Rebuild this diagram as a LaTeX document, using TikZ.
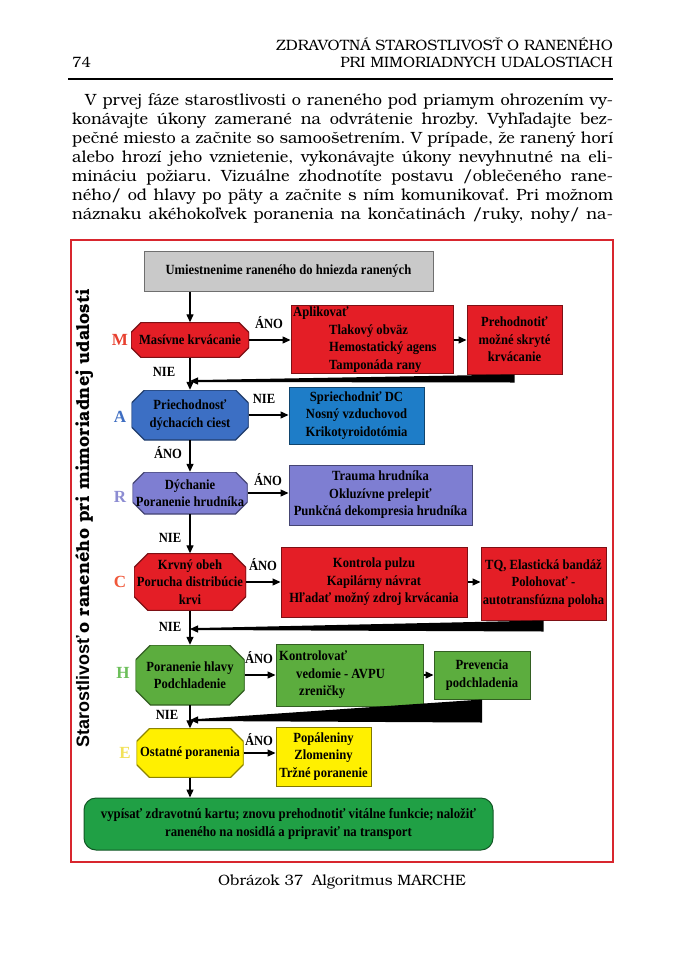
\documentclass[tikz,border=0pt]{standalone}
\usepackage{fontspec}
\setmainfont{Liberation Serif}
\newfontfamily\bonum{texgyrebonum-regular.otf}[BoldFont=texgyrebonum-bold.otf]
\newfontfamily\dfont{Liberation Serif}[FakeStretch=0.9]
\newfontfamily\lsans{Liberation Sans}
\usetikzlibrary{arrows.meta}
\definecolor{cGray}{HTML}{C9C9C9}
\definecolor{cRed}{HTML}{E41E26}
\definecolor{cBlueO}{HTML}{3C6FC4}
\definecolor{cBlueB}{HTML}{1E7DC8}
\definecolor{cPurple}{HTML}{7E7ED2}
\definecolor{cGreen}{HTML}{5CAD3E}
\definecolor{cDGreen}{HTML}{20A045}
\definecolor{cYellow}{HTML}{FFF000}
\definecolor{cFrame}{HTML}{D8262E}
\definecolor{lM}{HTML}{E8402F}
\definecolor{lA}{HTML}{3F6EC2}
\definecolor{lR}{HTML}{8C8CD2}
\definecolor{lC}{HTML}{F0583A}
\definecolor{lH}{HTML}{6CBF5A}
\definecolor{lE}{HTML}{F2E25A}
\frenchspacing
\begin{document}
\begin{tikzpicture}[x=1pt,y=-1pt,
  dtxt/.style={font=\dfont\bfseries\fontsize{14}{17.5}\selectfont},
  arr/.style={-{Triangle[length=8pt,width=7pt]}, line width=1.3pt},
  octcut/.code={\def\octc{#1}},
  octcol/.code={\def\octcol{#1}},
  octo/.style={rectangle, inner sep=0pt, align=center, dtxt,
    path picture={\path[fill=\octcol, draw=\octcol!55!black, line width=1.2pt]
      ([xshift=\octc]path picture bounding box.north west) --
      ([xshift=-\octc]path picture bounding box.north east) --
      ([yshift=-\octc]path picture bounding box.north east) --
      ([yshift=\octc]path picture bounding box.south east) --
      ([xshift=-\octc]path picture bounding box.south east) --
      ([xshift=\octc]path picture bounding box.south west) --
      ([yshift=\octc]path picture bounding box.south west) --
      ([yshift=-\octc]path picture bounding box.north west) -- cycle;}},
  rbox/.style={rectangle, inner sep=0pt, align=center, dtxt, line width=1pt},
  lab/.style={font=\dfont\bfseries\fontsize{14}{16}\selectfont, inner sep=0pt},
  letter/.style={font=\rmfamily\bfseries\fontsize{17}{18}\selectfont, inner sep=0pt},
  body/.style={font=\bonum\fontsize{16.3}{19}\selectfont, inner sep=0pt, anchor=base west},
  head/.style={font=\bonum\fontsize{15}{16}\selectfont, inner sep=0pt}
]
\useasboundingbox (0,0) rectangle (685,967);
\fill[white] (0,0) rectangle (685,967);

% header
\node[head, anchor=base east] (h1) at (613,50) {ZDRAVOTNÁ STAROSTLIVOSŤ O RANENÉHO};
\node[head, anchor=base east] (h2) at (613,67) {PRI MIMORIADNYCH UDALOSTIACH};
\node[font=\bonum\fontsize{15}{16}\selectfont, inner sep=0pt, anchor=base west] (pg) at (72,67) {74};
\coordinate (hrA) at (68,79);
\coordinate (hrB) at (613,79);
\draw[line width=1.4pt] (hrA) -- (hrB);

% body text
\node[body] (t1) at (85,105) {\makebox[528pt][s]{V prvej fáze starostlivosti o raneného pod priamym ohrozením vy-}};
\node[body] (t2) at (72,124) {\makebox[541pt][s]{konávajte úkony zamerané na odvrátenie hrozby. Vyhľadajte bez-}};
\node[body] (t3) at (72,143) {\makebox[541pt][s]{pečné miesto a začnite so samoošetrením. V prípade, že ranený horí}};
\node[body] (t4) at (72,162) {\makebox[541pt][s]{alebo hrozí jeho vznietenie, vykonávajte úkony nevyhnutné na eli-}};
\node[body] (t5) at (72,181) {\makebox[541pt][s]{mináciu požiaru. Vizuálne zhodnotíte postavu /oblečeného rane-}};
\node[body] (t6) at (72,200) {\makebox[541pt][s]{ného/ od hlavy po päty a začnite s ním komunikovať. Pri možnom}};
\node[body] (t7) at (72,219) {\makebox[541pt][s]{náznaku akéhokoľvek poranenia na končatinách /ruky, nohy/ na-}};

% frame
\draw[cFrame, line width=1.5pt] (71,240) rectangle (613,862);

% vertical title
\node[rotate=90, anchor=base west, inner sep=0pt] (vt) at (89,748)
  {{\lsans\bfseries\fontsize{18}{18}\selectfont Starostlivosť} {\bonum\bfseries\fontsize{18}{18}\selectfont o raneného pri mimoriadnej udalosti}};

% nodes
\node[rbox, fill=cGray, draw=cGray!55!black, minimum width=289pt, minimum height=40pt] (g) at (288.5,271) {Umiestnenime raneného do hniezda ranených};

\node[octo, octcol=cRed, octcut=10pt, minimum width=118pt, minimum height=35pt] (m) at (190,340) {Masívne krvácanie};
\node[rbox, fill=cRed, draw=cRed!55!black, minimum width=162pt, minimum height=68pt] (r1) at (372,339) {};
\node[dtxt, anchor=north west, align=left, inner sep=0pt] (r1t) at (293,307) {Aplikovať\\\hspace*{36pt}Tlakový obväz\\\hspace*{36pt}Hemostatický agens\\\hspace*{36pt}Tamponáda rany};
\node[rbox, fill=cRed, draw=cRed!55!black, minimum width=95pt, minimum height=69pt] (r2) at (514.5,339.5) {Prehodnotiť\\možné skryté\\krvácanie};

\node[octo, octcol=cBlueO, octcut=13pt, minimum width=117pt, minimum height=50pt] (a) at (190,415) {Priechodnosť\\dýchacích ciest};
\node[rbox, fill=cBlueB, draw=cBlueB!55!black, minimum width=135pt, minimum height=57pt] (b1) at (356.5,415.5) {Spriechodniť DC\\Nosný vzduchovod\\Krikotyroidotómia};

\node[octo, octcol=cPurple, octcut=12pt, minimum width=115pt, minimum height=42pt] (r) at (190,493) {Dýchanie\\Poranenie hrudníka};
\node[rbox, fill=cPurple, draw=cPurple!55!black, minimum width=183pt, minimum height=60pt] (p1) at (380.5,495) {Trauma hrudníka\\Okluzívne prelepiť\\Punkčná dekompresia hrudníka};

\node[octo, octcol=cRed, octcut=14pt, minimum width=112pt, minimum height=57pt] (c) at (190,582) {Krvný obeh\\Porucha distribúcie\\krvi};
\node[rbox, fill=cRed, draw=cRed!55!black, minimum width=186pt, minimum height=70pt] (c1) at (374,582) {Kontrola pulzu\\Kapilárny návrat\\Hľadať možný zdroj krvácania};
\node[rbox, fill=cRed, draw=cRed!55!black, minimum width=125pt, minimum height=73pt] (c2) at (543.5,583.5) {TQ, Elastická bandáž\\Polohovať -\\autotransfúzna poloha};

\node[octo, octcol=cGreen, octcut=15pt, minimum width=109pt, minimum height=60pt] (h) at (190,675) {Poranenie hlavy\\Podchladenie};
\node[rbox, fill=cGreen, draw=cGreen!55!black, minimum width=147pt, minimum height=62pt] (h1b) at (349.5,675) {};
\node[dtxt, anchor=north west, align=left, inner sep=0pt] (h1t) at (279,651) {Kontrolovať\\\hspace*{17pt}vedomie - AVPU\\\hspace*{20pt}zreničky};
\node[rbox, fill=cGreen, draw=cGreen!55!black, minimum width=96pt, minimum height=48pt] (h2b) at (482,675) {Prevencia\\podchladenia};

\node[octo, octcol=cYellow, octcut=13pt, minimum width=107pt, minimum height=49pt] (e) at (190,753) {Ostatné poranenia};
\node[rbox, fill=cYellow, draw=cYellow!50!black, minimum width=95pt, minimum height=59pt] (y1) at (323.5,756.5) {Popáleniny\\Zlomeniny\\Tržné poranenie};

\node[rbox, fill=cDGreen, draw=cDGreen!55!black, rounded corners=12pt, minimum width=409pt, minimum height=52pt, font=\dfont\bfseries\fontsize{14.2}{18}\selectfont] (f) at (288.5,824) {vypísať zdravotnú kartu; znovu prehodnotiť vitálne funkcie; naložiť\\raneného na nosidlá a pripraviť na transport};

% letters
\node[letter, text=lM] (lm) at (120,340) {M};
\node[letter, text=lA] (la) at (120,417) {A};
\node[letter, text=lR] (lr) at (120,497) {R};
\node[letter, text=lC] (lc) at (120,582) {C};
\node[letter, text=lH] (lh) at (123,673) {H};
\node[letter, text=lE] (le) at (125,753) {E};

% vertical connectors
\draw[arr] (g.south -| m.north) -- (m.north);
\draw[arr] (m.south) -- (a.north);
\draw[arr] (a.south) -- (r.north);
\draw[arr] (r.south) -- (c.north);
\draw[arr] (c.south) -- (h.north);
\draw[arr] (h.south) -- (e.north);
\draw[arr] (e.south) -- (e.south |- f.north);

% horizontal connectors
\draw[arr] (m.east) -- (m.east -| r1.west);
\draw[arr] (r1.east |- m.east) -- (r1.east |- m.east -| r2.west);
\draw[arr] (a.east) -- (a.east -| b1.west);
\draw[arr] (r.east) -- (r.east -| p1.west);
\draw[arr] (c.east) -- (c.east -| c1.west);
\draw[arr] (c1.east) -- (c1.east -| c2.west);
\draw[arr] (h.east) -- (h.east -| h1b.west);
\draw[arr] (h1b.east) -- (h1b.east -| h2b.west);
\draw[arr] (e.east) -- (e.east -| y1.west);

% feedback wedges
\coordinate (j1) at (198,381);
\coordinate (j2) at (198,629);
\coordinate (j3) at (198,720);
\fill[black] (r2.south) -- ([yshift=-8pt]r2.south) -- ([yshift=-1pt]j1) -- ([yshift=1pt]j1) -- cycle;
\fill[black] (c2.south) -- ([yshift=-11pt]c2.south) -- ([yshift=-1pt]j2) -- ([yshift=1pt]j2) -- cycle;
\fill[black] (h2b.south) -- ([yshift=-23pt]h2b.south) -- ([yshift=-1pt]j3) -- ([yshift=1pt]j3) -- cycle;
\draw[arr] (j1) -- (j1 -| a.north);
\draw[arr] (j2) -- (j2 -| h.north);
\draw[arr] (j3) -- (j3 -| e.north);

% labels
\node[lab] (l1) at (269,323) {ÁNO};
\node[lab] (l2) at (164,372) {NIE};
\node[lab] (l3) at (264,399) {NIE};
\node[lab] (l4) at (168,453) {ÁNO};
\node[lab] (l5) at (268,480) {ÁNO};
\node[lab] (l6) at (170,538) {NIE};
\node[lab] (l7) at (263,565) {ÁNO};
\node[lab] (l8) at (170,627) {NIE};
\node[lab] (l9) at (259,658) {ÁNO};
\node[lab] (l10) at (167,715) {NIE};
\node[lab] (l11) at (259,740) {ÁNO};

% caption
\node[font=\bonum\fontsize{15}{16}\selectfont, inner sep=0pt, anchor=base] (cap) at (342,885) {Obrázok 37\hspace{0.6em}Algoritmus MARCHE};
\end{tikzpicture}
\end{document}
